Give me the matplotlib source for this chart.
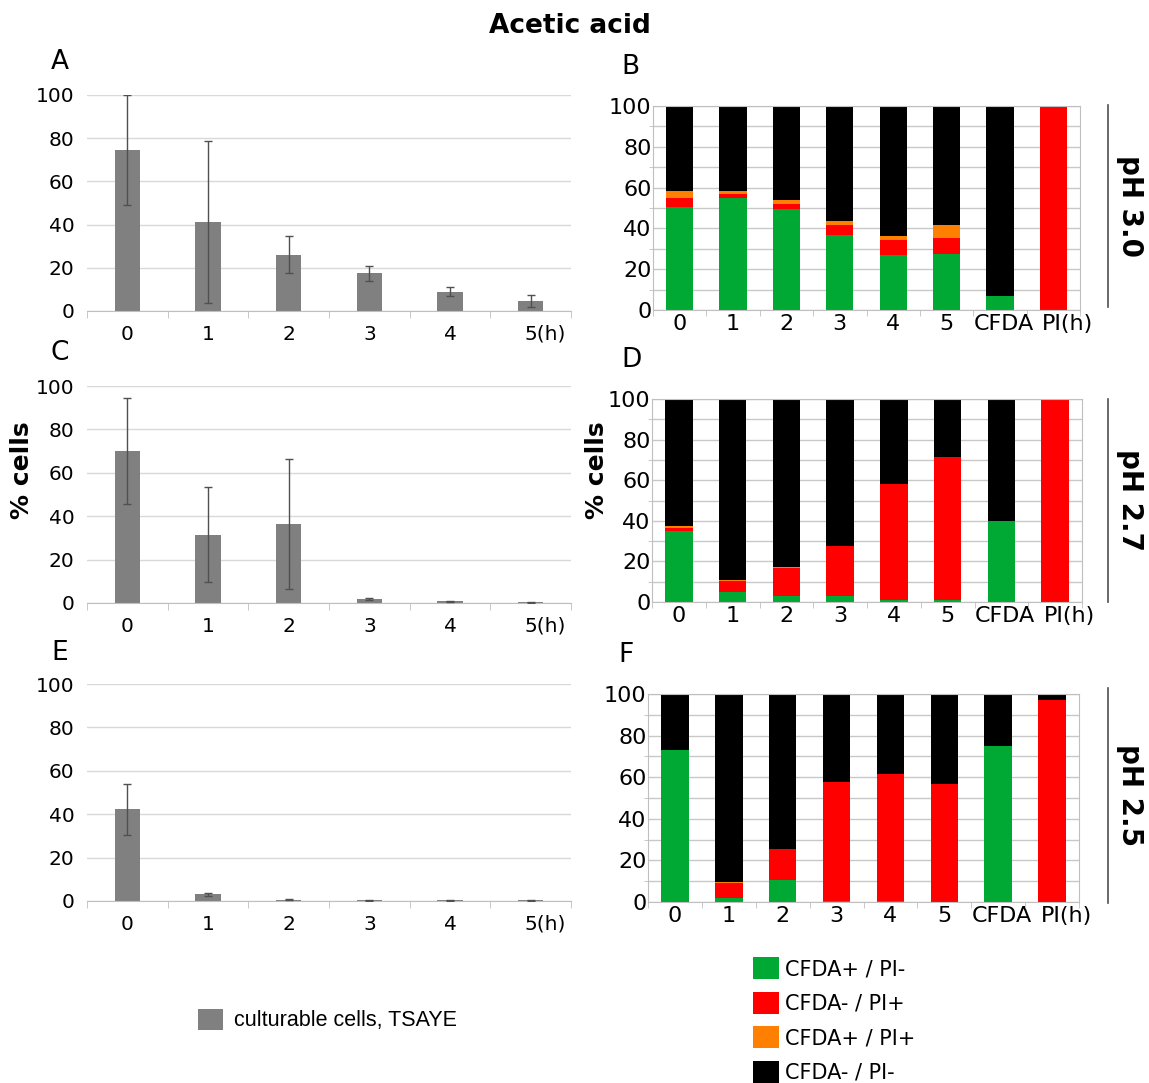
import matplotlib
matplotlib.use("Agg")
import matplotlib.pyplot as plt
from matplotlib.patches import Patch
from matplotlib.lines import Line2D
from matplotlib.transforms import ScaledTranslation

# culturable cells (TSAYE), % of initial, mean and error
hours = ["0", "1", "2", "3", "4", "5(h)"]
cult_a = [74.5, 41.0, 26.0, 17.5, 9.0, 4.5]
cult_a_err = [25.5, 37.5, 8.5, 3.5, 2.0, 2.8]
cult_c = [70.0, 31.5, 36.5, 2.0, 0.8, 0.4]
cult_c_err = [24.5, 22.0, 30.0, 0.5, 0.3, 0.2]
cult_e = [42.3, 3.0, 0.5, 0.3, 0.3, 0.3]
cult_e_err = [11.7, 0.8, 0.2, 0.1, 0.1, 0.1]

# flow cytometry staining, % cells
stain_cats = ["0", "1", "2", "3", "4", "5", "CFDA", "PI(h)"]
green_b = [50.7, 55.1, 49.7, 36.9, 27.1, 27.6, 6.9, 0.0]
red_b = [4.4, 1.9, 2.4, 4.9, 7.4, 7.9, 0.0, 100.0]
orange_b = [3.2, 1.3, 1.8, 2.0, 1.9, 6.3, 0.0, 0.0]
black_b = [41.7, 41.7, 46.1, 56.2, 63.6, 58.2, 93.1, 0.0]

green_d = [34.8, 4.8, 2.8, 2.8, 1.1, 0.8, 39.7, 0.0]
red_d = [1.8, 5.4, 13.9, 25.0, 56.9, 70.5, 0.0, 99.7]
orange_d = [0.8, 0.5, 0.5, 0.0, 0.0, 0.0, 0.0, 0.0]
black_d = [62.6, 89.3, 82.8, 72.2, 42.0, 28.7, 60.3, 0.3]

green_f = [73.0, 1.9, 10.4, 0.5, 0.5, 0.0, 75.0, 0.0]
red_f = [0.0, 7.4, 15.1, 57.3, 61.0, 56.7, 0.0, 97.3]
orange_f = [0.0, 0.3, 0.0, 0.0, 0.0, 0.0, 0.0, 0.0]
black_f = [27.0, 90.4, 74.5, 42.2, 38.5, 43.3, 25.0, 2.7]

stain_names = ["CFDA+ / PI-", "CFDA- / PI+", "CFDA+ / PI+", "CFDA- / PI-"]
stain_colors = ["#00a933", "#ff0000", "#ff8000", "#000000"]
ph_labels = ["pH 3.0", "pH 2.7", "pH 2.5"]

W, H = 1149, 1083
plt.rcParams["font.family"] = ["DejaVu Sans"]
fig = plt.figure(figsize=(W / 100, H / 100), dpi=100)


def px_axes(left, top, right, bottom):
    return fig.add_axes([left / W, 1 - bottom / H, (right - left) / W, (bottom - top) / H])


def shift_last_label(ax, dx):
    lab = ax.get_xticklabels()[-1]
    lab.set_transform(lab.get_transform() + ScaledTranslation(dx / 100, 0, fig.dpi_scale_trans))


def culturable_panel(ax, values, errors):
    xs = range(len(values))
    ax.bar(xs, values, width=0.31, color="#808080", zorder=2)
    ax.errorbar(xs, values, yerr=errors, fmt="none", ecolor="#505050",
                elinewidth=1, capsize=3, capthick=1, zorder=3)
    ax.set_xlim(-0.5, len(values) - 0.5)
    ax.set_ylim(0, 100)
    ax.set_yticks(range(0, 101, 20))
    ax.set_xticks(list(xs))
    ax.set_xticklabels(hours)
    ax.set_xticks([i - 0.5 for i in range(len(values) + 1)], minor=True)
    ax.tick_params(axis="x", which="major", length=0, pad=10, labelsize=14.5)
    ax.tick_params(axis="x", which="minor", length=5, color="#bfbfbf")
    ax.tick_params(axis="y", length=0, pad=9, labelsize=14.5)
    ax.grid(axis="y", color="#d9d9d9", linewidth=1, zorder=0)
    for side in ["left", "top", "right"]:
        ax.spines[side].set_visible(False)
    ax.spines["bottom"].set_color("#bfbfbf")
    shift_last_label(ax, 15)


def stain_panel(ax, green, red, orange, black):
    xs = range(len(green))
    bottom = [0.0] * len(green)
    for vals, color in zip([green, red, orange, black], stain_colors):
        ax.bar(xs, vals, bottom=bottom, width=0.51, color=color, zorder=2)
        bottom = [b + v for b, v in zip(bottom, vals)]
    ax.set_xlim(-0.5, len(green) - 0.5)
    ax.set_ylim(0, 100)
    ax.set_yticks(range(0, 101, 20))
    ax.set_yticks(range(0, 101, 10), minor=True)
    ax.set_xticks(list(xs))
    ax.set_xticklabels(stain_cats)
    ax.set_xticks([i - 0.5 for i in range(len(green) + 1)], minor=True)
    ax.tick_params(axis="x", which="major", length=0, pad=3, labelsize=16)
    ax.tick_params(axis="x", which="minor", length=4, color="#bfbfbf")
    ax.tick_params(axis="y", which="major", length=0, pad=1, labelsize=16)
    ax.tick_params(axis="y", which="minor", length=3, color="#bfbfbf")
    ax.grid(axis="y", which="both", color="#c8c8c8", linewidth=1, zorder=0)
    for side in ax.spines.values():
        side.set_color("#bfbfbf")
    labs = ax.get_xticklabels()
    labs[-2].set_transform(labs[-2].get_transform() + ScaledTranslation(0.04, 0, fig.dpi_scale_trans))
    shift_last_label(ax, 14)


ax_a = px_axes(87, 95, 571, 311)
ax_c = px_axes(87, 386, 571, 603)
ax_e = px_axes(87, 684, 571, 901)
culturable_panel(ax_a, cult_a, cult_a_err)
culturable_panel(ax_c, cult_c, cult_c_err)
culturable_panel(ax_e, cult_e, cult_e_err)

ax_b = px_axes(653, 106, 1080, 310)
ax_d = px_axes(652, 399, 1082, 602)
ax_f = px_axes(648, 694, 1079, 902)
stain_panel(ax_b, green_b, red_b, orange_b, black_b)
stain_panel(ax_d, green_d, red_d, orange_d, black_d)
stain_panel(ax_f, green_f, red_f, orange_f, black_f)

fig.text(570 / W, 1 - 26 / H, "Acetic acid", fontsize=19, fontweight="bold",
         ha="center", va="center")

for letter, (x, y) in zip("ABCDEF", [(60, 62), (630, 67), (60, 353),
                                      (632, 360), (60, 653), (626, 655)]):
    fig.text(x / W, 1 - y / H, letter, fontsize=19, ha="center", va="center")

for x in [22, 597]:
    fig.text(x / W, 1 - 470 / H, "% cells", fontsize=18, fontweight="bold",
             rotation=90, ha="center", va="center")

for label, (top, bottom) in zip(ph_labels, [(105, 307), (399, 602), (688, 903)]):
    fig.add_artist(Line2D([1108 / W, 1108 / W], [1 - top / H, 1 - bottom / H],
                          color="#505050", linewidth=1.2))
    fig.text(1130 / W, 1 - (top + bottom) / 2 / H, label, fontsize=20,
             fontweight="bold", rotation=270, ha="center", va="center")

fig.legend(handles=[Patch(facecolor="#808080")], labels=["culturable cells, TSAYE"],
           loc="center left", bbox_to_anchor=(187 / W, 1 - 1020 / H), frameon=False,
           prop={"family": "Liberation Sans", "size": 15.5}, borderpad=0,
           handlelength=1.15, handleheight=1.15, handletextpad=0.55)

fig.legend(handles=[Patch(facecolor=c) for c in stain_colors], labels=stain_names,
           loc="upper left", bbox_to_anchor=(753 / W, 1 - 957 / H), frameon=False,
           fontsize=15, handlelength=1.25, handleheight=1.25, handletextpad=0.3,
           labelspacing=0.6, borderpad=0, borderaxespad=0)

fig.savefig("out.png", dpi=100)
